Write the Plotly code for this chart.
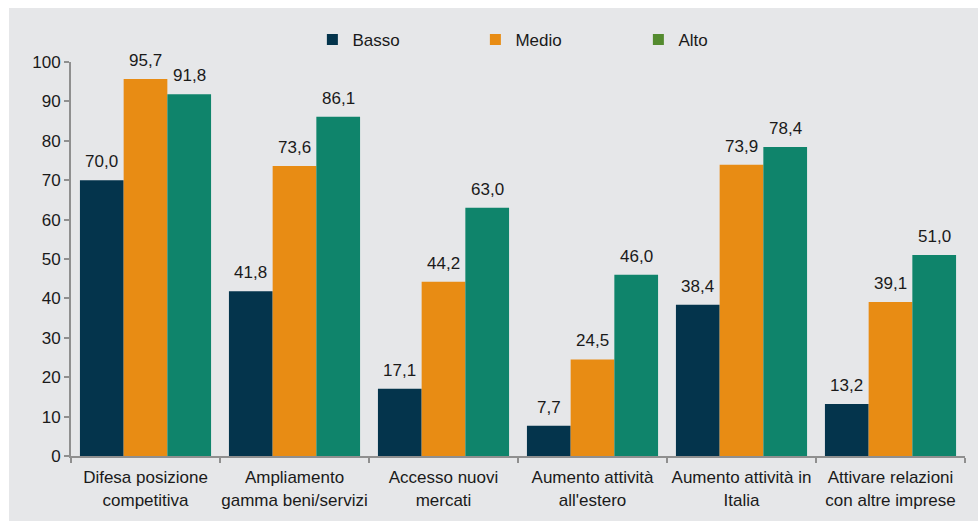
import plotly.graph_objects as go

categories = [
    "Difesa posizione<br>competitiva",
    "Ampliamento<br>gamma beni/servizi",
    "Accesso nuovi<br>mercati",
    "Aumento attività<br>all'estero",
    "Aumento attività in<br>Italia",
    "Attivare relazioni<br>con altre imprese",
]
series_names = ["Basso", "Medio", "Alto"]
basso = [70.0, 41.8, 17.1, 7.7, 38.4, 13.2]
medio = [95.7, 73.6, 44.2, 24.5, 73.9, 39.1]
alto = [91.8, 86.1, 63.0, 46.0, 78.4, 51.0]
y_ticks = [0, 10, 20, 30, 40, 50, 60, 70, 80, 90, 100]

bar_colors = ["#04344c", "#e88c14", "#0f846b"]
legend_colors = ["#04344c", "#e88c14", "#548b2f"]
panel_color = "#e6e7e9"
text_color = "#1a1a1a"
axis_color = "#8f8f8f"
font_family = "Liberation Sans"
FS = 17

W, H = 979, 522
M_L, M_R, M_T, M_B = 71, 14, 62, 66
BARGAP = 0.12

fig = go.Figure()
all_series = [basso, medio, alto]
for name, vals, col in zip(series_names, all_series, bar_colors):
    fig.add_trace(go.Bar(
        x=categories, y=vals, name=name, marker=dict(color=col, line=dict(width=0)),
        showlegend=False, hoverinfo="x+y",
    ))

# legend entries (square swatches)
for name, col in zip(series_names, legend_colors):
    fig.add_trace(go.Scatter(
        x=[None], y=[None], mode="markers", name=name,
        marker=dict(symbol="square", size=11, color=col),
    ))

# value labels above each bar, offset to the bar's slot within its group
plot_w = W - M_L - M_R
bar_px = plot_w / len(categories) * (1 - BARGAP) / len(all_series)
annotations = []
for i, vals in enumerate(all_series):
    for cat, v in zip(categories, vals):
        annotations.append(dict(
            x=cat, y=v, xref="x", yref="y",
            text=f"{v:.1f}".replace(".", ","),
            showarrow=False, yanchor="bottom", xanchor="center",
            xshift=(i - 1) * bar_px, yshift=7,
            font=dict(size=FS, color=text_color, family=font_family),
        ))

plot_h = H - M_T - M_B
fig.update_layout(
    width=W, height=H,
    margin=dict(l=M_L, r=M_R, t=M_T, b=M_B, pad=0, autoexpand=False),
    paper_bgcolor="white",
    plot_bgcolor="rgba(0,0,0,0)",
    barmode="group", bargap=BARGAP, bargroupgap=0,
    separators=",.",
    font=dict(family=font_family, size=FS, color=text_color),
    legend=dict(
        orientation="h", x=0.27, y=1.0 + (M_T - 40) / plot_h, xanchor="left", yanchor="middle",
        entrywidth=118, entrywidthmode="pixels", bgcolor="rgba(0,0,0,0)",
        font=dict(size=FS, color=text_color, family=font_family),
        itemclick=False, itemdoubleclick=False,
    ),
    annotations=annotations,
    shapes=[dict(
        type="rect", xref="paper", yref="paper", layer="below",
        x0=(9 - M_L) / plot_w, x1=(978 - M_L) / plot_w,
        y0=-(521 - (H - M_B)) / plot_h, y1=1 + (M_T - 8) / plot_h,
        fillcolor=panel_color, line=dict(width=0),
    )],
    xaxis=dict(
        showline=True, linecolor=axis_color, linewidth=2,
        ticks="outside", tickson="boundaries", ticklen=5, tickcolor=axis_color, tickwidth=2,
        ticklabelstandoff=5, tickangle=0, automargin=False,
        showgrid=False, tickfont=dict(size=FS, color=text_color, family=font_family),
    ),
    yaxis=dict(
        range=[0, 100], tickvals=y_ticks, showline=True, linecolor=axis_color, linewidth=2,
        ticks="outside", ticklen=5, tickcolor=axis_color, tickwidth=2, automargin=False,
        showgrid=False, zeroline=False, tickfont=dict(size=FS, color=text_color, family=font_family),
    ),
)

fig.write_html("out.html")
